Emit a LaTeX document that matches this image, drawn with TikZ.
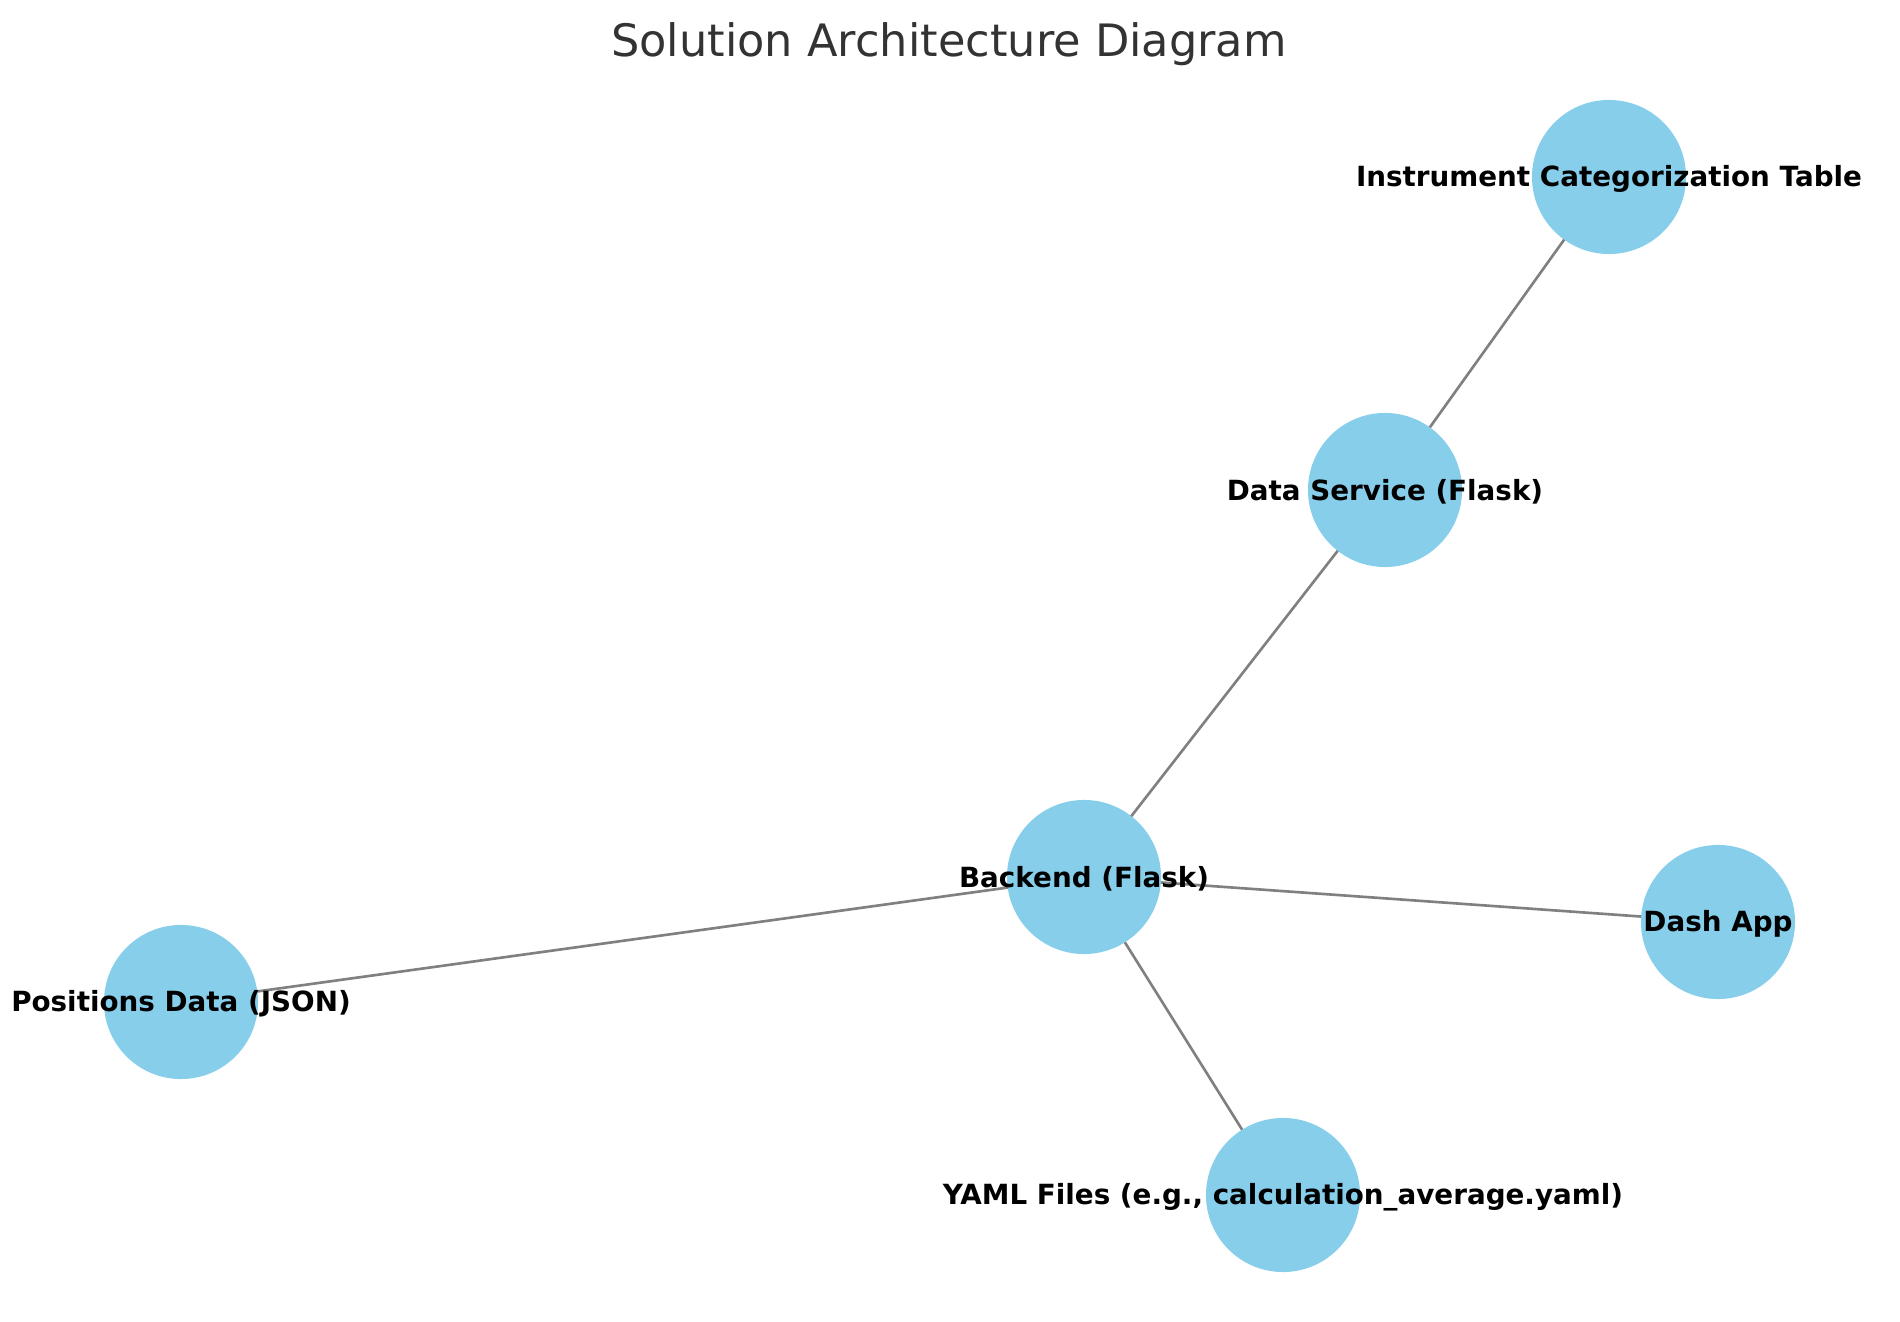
\documentclass[tikz,border=0pt]{standalone}
\usepackage{fontspec}
\setmainfont{DejaVu Sans}
\definecolor{skyblue}{HTML}{87CEEB}
\definecolor{edgegray}{HTML}{808080}
\definecolor{titlegray}{HTML}{333333}
\tikzset{
  archnode/.style={circle, fill=skyblue, minimum size=1.54cm, inner sep=0pt},
  archlabel/.style={font=\fontsize{7.9pt}{9.5pt}\selectfont\bfseries, text=black, inner sep=0pt, yshift=-0.02cm},
  archedge/.style={draw=edgegray, line width=0.75pt},
}
\begin{document}
\begin{tikzpicture}[x=0.01cm, y=-0.01cm]
\useasboundingbox (0,0) rectangle (1900,1322);
\clip (0,0) rectangle (1900,1322);
% node centres
\coordinate (ict) at (1609,177);
\coordinate (ds) at (1385,490);
\coordinate (be) at (1084,877);
\coordinate (dash) at (1718,922);
\coordinate (pos) at (181,1002);
\coordinate (yaml) at (1283,1195);
% edges behind
\draw[archedge] (ds) -- (ict);
\draw[archedge] (be) -- (ds);
\draw[archedge] (be) -- (dash);
\draw[archedge] (be) -- (pos);
\draw[archedge] (be) -- (yaml);
% circles
\node[archnode] (c1) at (ict) {};
\node[archnode] (c2) at (ds) {};
\node[archnode] (c3) at (be) {};
\node[archnode] (c4) at (dash) {};
\node[archnode] (c5) at (pos) {};
\node[archnode] (c6) at (yaml) {};
% labels
\node[archlabel] (l1) at (ict) {Instrument Categorization Table};
\node[archlabel] (l2) at (ds) {Data Service (Flask)};
\node[archlabel] (l3) at (be) {Backend (Flask)};
\node[archlabel] (l4) at (dash) {Dash App};
\node[archlabel] (l5) at (pos) {Positions Data (JSON)};
\node[archlabel] (l6) at (yaml) {YAML Files (e.g., calculation\_average.yaml)};
% title
\node[font=\fontsize{12.7pt}{15pt}\selectfont, text=titlegray, inner sep=0pt] (title) at (949,44) {Solution Architecture Diagram};
\end{tikzpicture}
\end{document}
